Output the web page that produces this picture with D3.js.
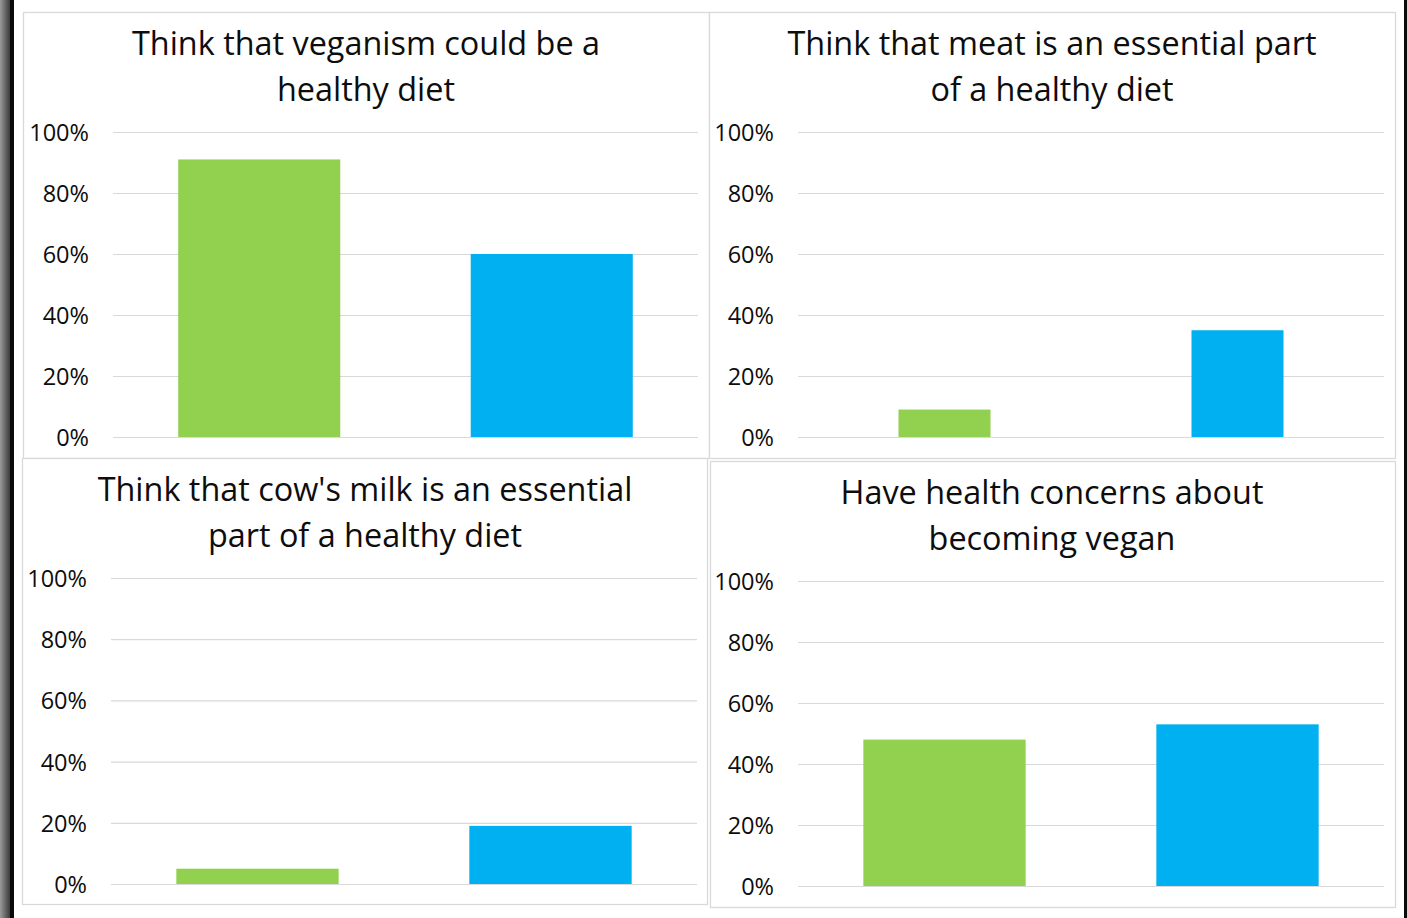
<!DOCTYPE html>
<html>
<head>
<meta charset="utf-8">
<script src="https://cdn.jsdelivr.net/npm/d3@7"></script>
<style>
  body { margin: 0; background: #fff; }
  svg { display: block; }
  text { font-family: "Open Sans", sans-serif; fill: #0d0d0d; }
</style>
</head>
<body>
<svg id="chart" width="1407" height="918"></svg>
<script>
// data
const groups = ['Vegans', 'Non-vegans'];
const titles = [
  ['Think that veganism could be a', 'healthy diet'],
  ['Think that meat is an essential part', 'of a healthy diet'],
  ["Think that cow's milk is an essential", 'part of a healthy diet'],
  ['Have health concerns about', 'becoming vegan']
];
const veganValues    = [0.91, 0.09, 0.05, 0.48];
const nonVeganValues = [0.60, 0.35, 0.19, 0.53];
const tickValues = [0, 0.2, 0.4, 0.6, 0.8, 1];

const colors = ['#92d050', '#00b0f0'];

// panel boxes + plot areas (layout)
const panels = [
  {box: [23, 12, 709, 458],  plot: [113, 132, 698, 437], tx: 366,  ty: 55,  pad: 0.446},
  {box: [709, 12, 1395, 458], plot: [798, 132, 1384, 437], tx: 1052, ty: 55,  pad: 0.686},
  {box: [22, 458, 707, 904], plot: [111, 578, 697, 884], tx: 365,  ty: 501, pad: 0.446},
  {box: [710, 461, 1395, 907], plot: [798, 581, 1384, 886], tx: 1052, ty: 504, pad: 0.446}
];

const svg = d3.select('#chart');

// window edges
const grad = svg.append('defs').append('linearGradient').attr('id', 'edge');
grad.append('stop').attr('offset', '0%').attr('stop-color', '#9a9a9a');
grad.append('stop').attr('offset', '100%').attr('stop-color', '#3a3a3a');
svg.append('rect').attr('x', 0).attr('y', 0).attr('width', 10).attr('height', 918).attr('fill', 'url(#edge)');
svg.append('rect').attr('x', 10).attr('y', 0).attr('width', 4).attr('height', 918).attr('fill', '#0a0a0a');
svg.append('rect').attr('x', 1404).attr('y', 0).attr('width', 3).attr('height', 918).attr('fill', '#0a0a0a');

panels.forEach((p, i) => {
  let g = svg.append('g').attr('class', 'panel');
  let [bx0, by0, bx1, by1] = p.box,
      [px0, py0, px1, py1] = p.plot;

  g.append('rect')
    .attr('x', bx0 + 0.5).attr('y', by0 + 0.5)
    .attr('width', bx1 - bx0).attr('height', by1 - by0)
    .attr('fill', '#fff').attr('stroke', '#d9d9d9').attr('stroke-width', 1.3);

  let x = d3.scaleBand().domain(groups).range([px0, px1])
            .paddingInner(p.pad).paddingOuter(p.pad / 2);
  let y = d3.scaleLinear().domain([0, 1]).range([py1, py0]);

  // gridlines + tick labels
  let axis = d3.axisLeft(y).tickValues(tickValues)
               .tickFormat(d3.format('.0%'))
               .tickSize(-(px1 - px0)).tickPadding(24);
  let ag = g.append('g').attr('transform', `translate(${px0},0)`).call(axis);
  ag.select('.domain').remove();
  ag.selectAll('line').attr('stroke', '#d9d9d9').attr('stroke-width', 1.2);
  ag.selectAll('text').style('font-size', '23.5px').attr('fill', '#0d0d0d').attr('dy', '0.36em');

  let vals = [veganValues[i], nonVeganValues[i]];
  g.selectAll('rect.bar')
    .data(vals)
    .enter()
    .append('rect')
    .attr('class', 'bar')
    .attr('x', (d, j) => x(groups[j]))
    .attr('width', x.bandwidth())
    .attr('y', d => y(d))
    .attr('height', d => y(0) - y(d))
    .attr('fill', (d, j) => colors[j]);

  g.selectAll('text.title')
    .data(titles[i])
    .enter()
    .append('text')
    .attr('class', 'title')
    .attr('x', p.tx)
    .attr('y', (d, j) => p.ty + j * 45.5)
    .attr('text-anchor', 'middle')
    .style('font-size', '32.4px')
    .text(d => d);
});
</script>
</body>
</html>
